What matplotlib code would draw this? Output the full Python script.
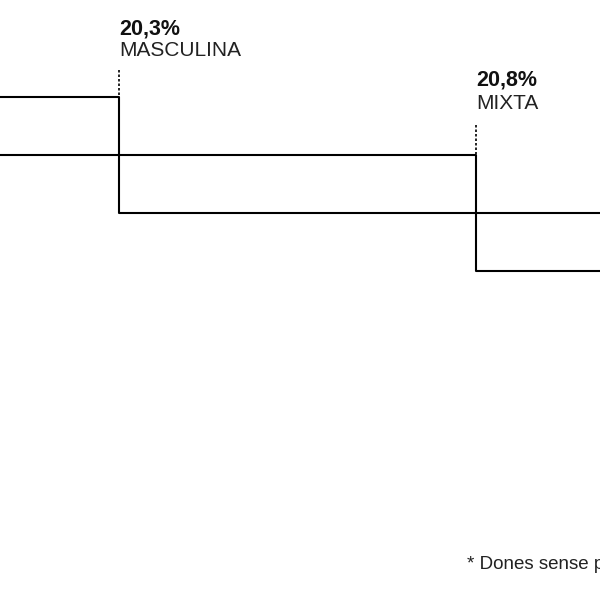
import matplotlib.pyplot as plt

# dades (unitats d'eix: 0-100 en horitzontal i vertical, vertical invertit)
names = ['MASCULINA', 'MIXTA']
pcts = ['20,3%', '20,8%']
breaks = [19.83, 79.33]          # on salta cada línia
level_before = [16.17, 25.83]    # nivell abans del salt
level_after = [35.5, 45.17]      # nivell després del salt
pct_base = [5.67, 14.17]         # línia base de la xifra
name_base = [9.33, 18.17]        # línia base del nom
dot_top = [11.7, 20.8]           # inici de la línia puntejada
footnote = '* Dones sense perspectiva de gènere'

plt.rcParams['font.family'] = ['Liberation Sans', 'DejaVu Sans']

fig = plt.figure(figsize=(6, 6), dpi=100)
ax = fig.add_axes([0, 0, 1, 1])
ax.set_xlim(0, 100)
ax.set_ylim(100, 0)
ax.axis('off')

for i in range(len(names)):
    ax.step([0, breaks[i], 100], [level_before[i], level_after[i], level_after[i]],
            where='post', color='black', lw=1.5)
    ax.vlines(breaks[i], dot_top[i], level_before[i] - 0.2, color='black',
              lw=1.2, linestyles=(0, (1.5, 1.2)))
    ax.text(breaks[i] + 0.1, pct_base[i], pcts[i], fontsize=15.5, fontweight='bold',
            va='baseline', ha='left', color='#111111')
    ax.text(breaks[i] + 0.1, name_base[i], names[i], fontsize=15,
            va='baseline', ha='left', color='#222222')

ax.text(77.8, 94.8, footnote, fontsize=13.5, va='baseline', ha='left', color='#222222')

fig.savefig('out.png', dpi=100, facecolor='white')
